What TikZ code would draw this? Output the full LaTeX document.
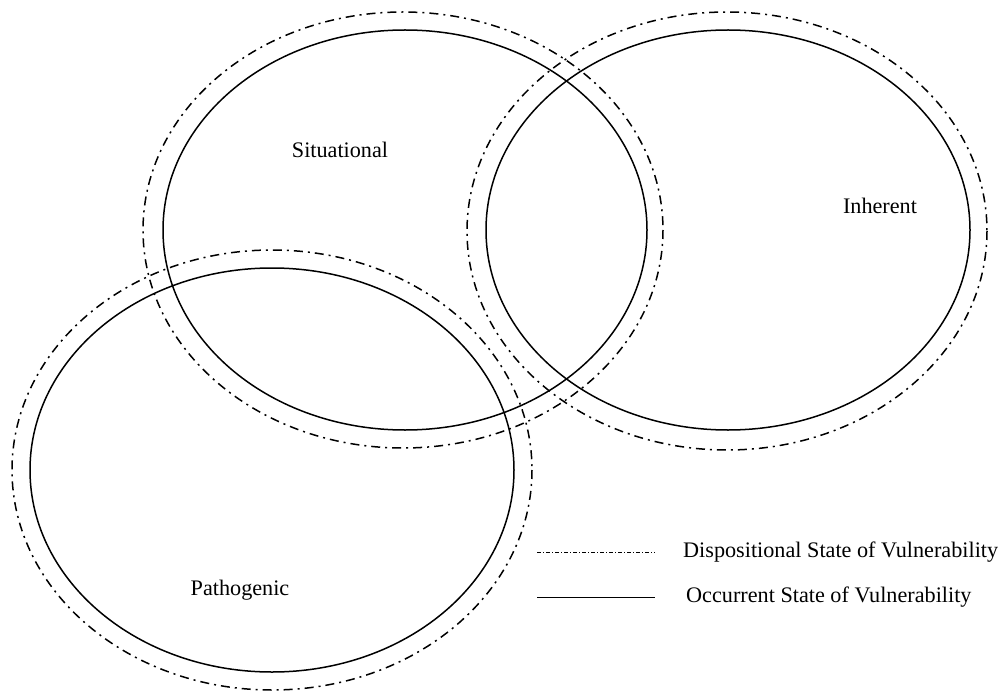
\documentclass[tikz,border=0pt]{standalone}
\usepackage{fontspec}
\setmainfont{Liberation Serif}
\usetikzlibrary{shapes.geometric}
\tikzset{
    occurrent/.style={line width=1.5pt},
    dispositional/.style={line width=1.5pt, dash pattern=on 9pt off 5pt on 2pt off 5pt},
    label/.style={font=\fontsize{22.2}{26}\selectfont, inner sep=0pt},
}
\begin{document}
\begin{tikzpicture}[x=1pt, y=-1pt]
    \useasboundingbox (0,0) rectangle (1001,695);
    % situational
    \draw[dispositional] (403,230) ellipse [x radius=260, y radius=218];
    \draw[occurrent] (405,230) ellipse [x radius=242, y radius=200];
    % inherent
    \draw[dispositional] (727,231) ellipse [x radius=260, y radius=219];
    \draw[occurrent] (728,230) ellipse [x radius=242, y radius=200];
    % pathogenic
    \draw[dispositional] (272,470) ellipse [x radius=260, y radius=220];
    \draw[occurrent] (272,470) ellipse [x radius=242, y radius=202];
    \node (situational) [label] at (340,150) {Situational};
    \node (inherent) [label] at (880,206) {Inherent};
    \node (pathogenic) [label] at (240,590) {Pathogenic};
    % legend
    \coordinate (d1) at (537,552);
    \coordinate (d2) at (655,552);
    \coordinate (o1) at (537,597);
    \coordinate (o2) at (655,597);
    \draw[dispositional, line width=0.8pt, dash pattern=on 4pt off 2pt on 1pt off 2pt] (d1) -- (d2);
    \draw[occurrent, line width=0.8pt] (o1) -- (o2);
    \node (dlabel) [label, anchor=west] at (683,552) {Dispositional State of Vulnerability};
    \node (olabel) [label, anchor=west] at (686,597) {Occurrent State of Vulnerability};
\end{tikzpicture}
\end{document}
